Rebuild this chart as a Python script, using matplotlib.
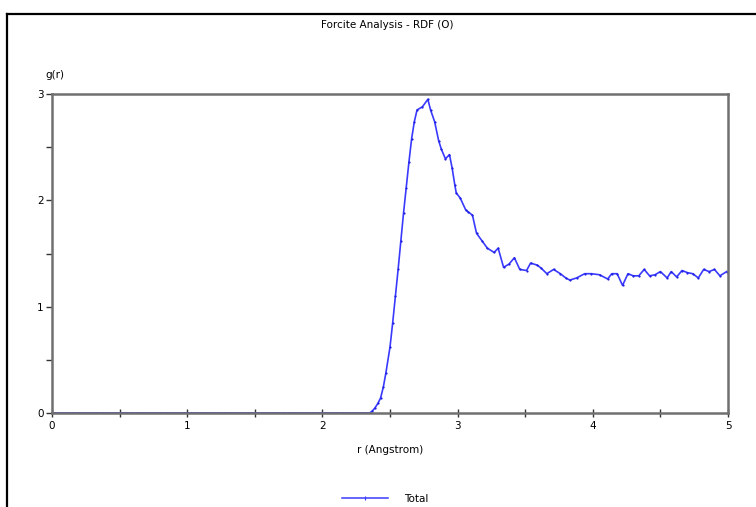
import numpy as np
import matplotlib
matplotlib.use("Agg")
import matplotlib.pyplot as plt
from matplotlib.lines import Line2D

# ---- data ----
r_flat = list(np.round(np.arange(0.0, 2.35, 0.025), 3))
g_flat = [0.0] * len(r_flat)

r_curve = [2.35, 2.37, 2.39, 2.41, 2.43, 2.45, 2.47, 2.50, 2.52, 2.54, 2.56,
           2.58, 2.60, 2.62, 2.64, 2.66, 2.68, 2.70, 2.74, 2.78, 2.80, 2.83, 2.86,
           2.88, 2.91, 2.94, 2.96, 2.98, 2.99, 3.02, 3.06, 3.08, 3.11, 3.14, 3.18,
           3.22, 3.27, 3.30, 3.34, 3.38, 3.42, 3.46, 3.51, 3.54, 3.59, 3.62, 3.66,
           3.71, 3.76, 3.80, 3.83, 3.88, 3.94, 3.99, 4.05, 4.11, 4.14, 4.18, 4.22,
           4.26, 4.30, 4.34, 4.38, 4.42, 4.46, 4.50, 4.55, 4.58, 4.62, 4.66, 4.70,
           4.74, 4.78, 4.82, 4.86, 4.90, 4.94, 4.99]
g_curve = [0.00, 0.02, 0.05, 0.09, 0.14, 0.24, 0.38, 0.62, 0.85, 1.10, 1.35,
           1.62, 1.88, 2.12, 2.36, 2.58, 2.74, 2.85, 2.88, 2.95, 2.85, 2.74, 2.56,
           2.48, 2.39, 2.43, 2.30, 2.14, 2.07, 2.02, 1.91, 1.89, 1.86, 1.69, 1.62,
           1.55, 1.51, 1.55, 1.37, 1.40, 1.46, 1.35, 1.34, 1.41, 1.39, 1.36, 1.31,
           1.35, 1.31, 1.27, 1.25, 1.27, 1.31, 1.31, 1.30, 1.26, 1.31, 1.31, 1.20,
           1.31, 1.29, 1.29, 1.35, 1.29, 1.30, 1.33, 1.27, 1.33, 1.28, 1.34, 1.32,
           1.31, 1.27, 1.35, 1.33, 1.35, 1.29, 1.33]

r = r_flat + r_curve
g = g_flat + g_curve

x_ticks = [0, 1, 2, 3, 4, 5]
y_ticks = [0, 1, 2, 3]

title = "Forcite Analysis - RDF (O)"
xlabel = "r (Angstrom)"
ylabel = "g(r)"
series_name = "Total"

# ---- figure ----
W, H = 756, 507
fig = plt.figure(figsize=(W / 100, H / 100), dpi=100)
fig.patch.set_facecolor("white")

ax = fig.add_axes([52 / W, 1 - 413 / H, 676 / W, 319 / H])
line_color = "#3a3aff"
ax.plot(r, g, color=line_color, lw=1.2, marker="o", markersize=1.6,
        markeredgewidth=0, markerfacecolor="#1f1fe0", label=series_name)

ax.set_xlim(0, 5)
ax.set_ylim(0, 3)
ax.set_xticks(x_ticks)
ax.set_yticks(y_ticks)
ax.set_xticks(np.arange(0, 5.01, 0.5), minor=True)
ax.set_yticks(np.arange(0, 3.01, 0.5), minor=True)
ax.set_xticklabels([str(t) for t in x_ticks])
ax.set_yticklabels([str(t) for t in y_ticks])

for s in ax.spines.values():
    s.set_color("#707070")
    s.set_linewidth(1.8)

ax.tick_params(axis="x", which="both", direction="inout", length=6, width=1,
               color="#333333", labelsize=7.5, pad=3)
ax.tick_params(axis="y", which="both", direction="out", length=4, width=1,
               color="#333333", labelsize=7.5, pad=2)

# titles / labels as figure text
fig.text(387 / W, 1 - 25 / H, title, ha="center", va="center", fontsize=7.5)
fig.text(55 / W, 1 - 75 / H, ylabel, ha="center", va="center", fontsize=7.5)
fig.text(390 / W, 1 - 450 / H, xlabel, ha="center", va="center", fontsize=7.5)

# legend
fig.legend(handles=[Line2D([0], [0], color=line_color, lw=1.1, marker="|",
                           markersize=3, markeredgewidth=0.8)],
           labels=[series_name], loc="center", bbox_to_anchor=(385 / W, 1 - 499 / H),
           frameon=False, fontsize=7.5, handlelength=4.5, handletextpad=1.5)

# outer frame (top and left)
fig.add_artist(Line2D([7 / W, 7 / W], [0, 1 - 14 / H], color="black", lw=1.6,
                      transform=fig.transFigure))
fig.add_artist(Line2D([7 / W, 1], [1 - 14 / H, 1 - 14 / H], color="black", lw=1.6,
                      transform=fig.transFigure))

fig.savefig("out.png", dpi=100)
